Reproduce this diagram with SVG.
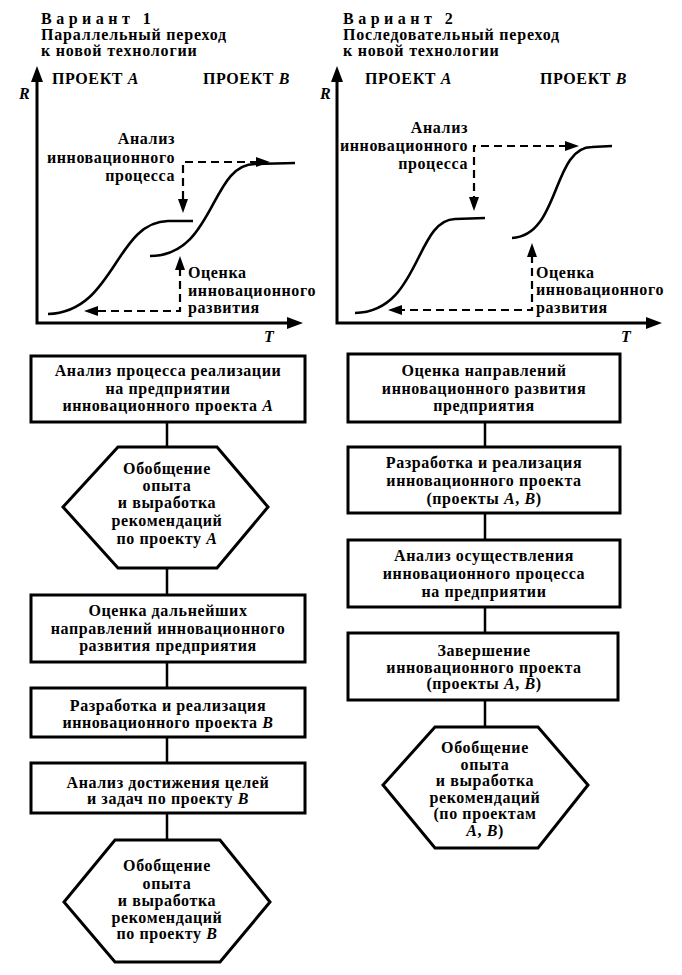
<svg xmlns="http://www.w3.org/2000/svg" width="682" height="975" viewBox="0 0 682 975" font-family="'Liberation Serif', 'DejaVu Serif', serif">
<style>
text{font-family:'Liberation Serif','DejaVu Serif',serif;font-size:16px;font-weight:bold;fill:#000;letter-spacing:0.6px}
.c{text-anchor:middle}
.r{text-anchor:end}
.ttl{letter-spacing:4.5px}
.st{letter-spacing:0.8px}
.i{font-style:italic}
.ax{stroke:#000;stroke-width:3;fill:none}
.cv{stroke:#000;stroke-width:2.6;fill:none}
.ds{stroke:#000;stroke-width:2.2;fill:none;stroke-dasharray:8 5}
.bx{stroke:#000;stroke-width:3;fill:#fff}
.ln{stroke:#000;stroke-width:2.5;fill:none}
.ah{fill:#000}
</style>
<rect width="682" height="975" fill="#fff"/>

<!-- Chart 1 -->
<g id="chart1">
<text x="41" y="24" class="ttl">Вариант 1</text>
<text x="41" y="40" class="st">Параллельный переход</text>
<text x="41" y="56" class="st">к новой технологии</text>
<text x="52" y="84">ПРОЕКТ <tspan class="i">A</tspan></text>
<text x="203" y="84">ПРОЕКТ <tspan class="i">B</tspan></text>
<text x="19" y="99" class="i">R</text>
<text x="264" y="342" class="i">T</text>
<path class="ax" d="M37,78 L37,323 L290,323"/>
<polygon class="ah" points="37,66 31,82 43,82"/>
<polygon class="ah" points="303,323 287,317 287,329"/>
<path class="cv" d="M48,314 C115,312 115,222 168,221 L193,221"/>
<path class="cv" d="M150,256 C215,256 210,164 255,164 L295,163"/>
<text x="175" y="144" class="r">Анализ</text>
<text x="175" y="163" class="r">инновационного</text>
<text x="175" y="181" class="r">процесса</text>
<path class="ds" d="M258,162 L183,162 L183,200"/>
<polygon class="ah" points="270,162 256,157 256,167"/>
<polygon class="ah" points="183,213 178,199 188,199"/>
<text x="188" y="278">Оценка</text>
<text x="188" y="296">инновационного</text>
<text x="188" y="313">развития</text>
<path class="ds" d="M180,268 L180,311 L96,311"/>
<polygon class="ah" points="180,256 175,270 185,270"/>
<polygon class="ah" points="84,311 98,306 98,316"/>
</g>

<!-- Chart 2 -->
<g id="chart2">
<text x="343" y="24" class="ttl">Вариант 2</text>
<text x="343" y="40" class="st">Последовательный переход</text>
<text x="343" y="56" class="st">к новой технологии</text>
<text x="365" y="84">ПРОЕКТ <tspan class="i">A</tspan></text>
<text x="540" y="84">ПРОЕКТ <tspan class="i">B</tspan></text>
<text x="320" y="99" class="i">R</text>
<text x="621" y="342" class="i">T</text>
<path class="ax" d="M337,78 L337,323 L648,323"/>
<polygon class="ah" points="337,66 331,82 343,82"/>
<polygon class="ah" points="662,323 646,317 646,329"/>
<path class="cv" d="M355,313 C420,312 415,220 455,219 L485,218"/>
<path class="cv" d="M512,238 C560,236 552,147 592,147 L612,146"/>
<text x="468" y="133" class="r">Анализ</text>
<text x="468" y="151" class="r">инновационного</text>
<text x="468" y="169" class="r">процесса</text>
<path class="ds" d="M567,146 L474,146 L474,198"/>
<polygon class="ah" points="579,146 565,141 565,151"/>
<polygon class="ah" points="474,211 469,197 479,197"/>
<text x="536" y="278">Оценка</text>
<text x="536" y="295">инновационного</text>
<text x="536" y="313">развития</text>
<path class="ds" d="M532,255 L532,310 L400,310"/>
<polygon class="ah" points="532,243 527,257 537,257"/>
<polygon class="ah" points="388,310 402,305 402,315"/>
</g>

<!-- Connectors -->
<g id="connectors">
<path class="ln" d="M167,422 V447 M167,568 V595 M167,662 V688 M167,737 V763 M167,813 V840"/>
<path class="ln" d="M485,422 V447 M485,513 V540 M485,607 V633 M485,700 V727"/>
</g>

<!-- Left flow -->
<g id="L1">
<rect class="bx" x="31" y="356" width="274" height="66"/>
<text x="168" y="376" class="c">Анализ процесса реализации</text>
<text x="168" y="394" class="c">на предприятии</text>
<text x="168" y="411" class="c">инновационного проекта <tspan class="i">A</tspan></text>
</g>
<g id="L2">
<polygon class="bx" points="118,447 217,447 268,507 217,568 118,568 63,507"/>
<text x="167" y="474" class="c">Обобщение</text>
<text x="167" y="491" class="c">опыта</text>
<text x="167" y="508" class="c">и выработка</text>
<text x="167" y="526" class="c">рекомендаций</text>
<text x="167" y="544" class="c">по проекту <tspan class="i">A</tspan></text>
</g>
<g id="L3">
<rect class="bx" x="31" y="595" width="274" height="67"/>
<text x="168" y="616" class="c">Оценка дальнейших</text>
<text x="168" y="634" class="c">направлений инновационного</text>
<text x="168" y="651" class="c">развития предприятия</text>
</g>
<g id="L4">
<rect class="bx" x="31" y="688" width="274" height="49"/>
<text x="168" y="711" class="c">Разработка и реализация</text>
<text x="168" y="728" class="c">инновационного проекта <tspan class="i">B</tspan></text>
</g>
<g id="L5">
<rect class="bx" x="31" y="763" width="274" height="50"/>
<text x="168" y="788" class="c">Анализ достижения целей</text>
<text x="168" y="804" class="c">и задач по проекту <tspan class="i">B</tspan></text>
</g>
<g id="L6">
<polygon class="bx" points="115,840 220,840 270,902 220,962 115,962 64,902"/>
<text x="167" y="871" class="c">Обобщение</text>
<text x="167" y="889" class="c">опыта</text>
<text x="167" y="906" class="c">и выработка</text>
<text x="167" y="923" class="c">рекомендаций</text>
<text x="167" y="939" class="c">по проекту <tspan class="i">B</tspan></text>
</g>

<!-- Right flow -->
<g id="R1">
<rect class="bx" x="348" y="354" width="272" height="68"/>
<text x="484" y="376" class="c">Оценка направлений</text>
<text x="484" y="394" class="c">инновационного развития</text>
<text x="484" y="411" class="c">предприятия</text>
</g>
<g id="R2">
<rect class="bx" x="348" y="447" width="272" height="66"/>
<text x="484" y="468" class="c">Разработка и реализация</text>
<text x="484" y="486" class="c">инновационного проекта</text>
<text x="484" y="504" class="c">(проекты <tspan class="i">A</tspan>, <tspan class="i">B</tspan>)</text>
</g>
<g id="R3">
<rect class="bx" x="348" y="540" width="272" height="67"/>
<text x="484" y="561" class="c">Анализ осуществления</text>
<text x="484" y="579" class="c">инновационного процесса</text>
<text x="484" y="597" class="c">на предприятии</text>
</g>
<g id="R4">
<rect class="bx" x="348" y="633" width="270" height="67"/>
<text x="484" y="656" class="c">Завершение</text>
<text x="484" y="673" class="c">инновационного проекта</text>
<text x="484" y="689" class="c">(проекты <tspan class="i">A</tspan>, <tspan class="i">B</tspan>)</text>
</g>
<g id="R5">
<polygon class="bx" points="435,727 538,727 588,785 538,848 435,848 383,785"/>
<text x="485" y="753" class="c">Обобщение</text>
<text x="485" y="770" class="c">опыта</text>
<text x="485" y="786" class="c">и выработка</text>
<text x="485" y="803" class="c">рекомендаций</text>
<text x="485" y="819" class="c">(по проектам</text>
<text x="485" y="836" class="c"><tspan class="i">A</tspan>, <tspan class="i">B</tspan>)</text>
</g>
</svg>
